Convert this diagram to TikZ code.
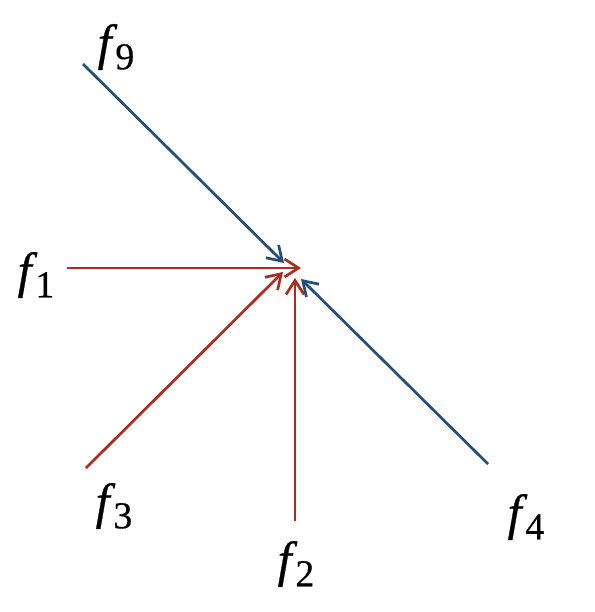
\documentclass[tikz,border=0pt]{standalone}
\usepackage{fontspec}
\setmainfont{Liberation Serif}[ItalicFeatures={FakeBold=0.6},UprightFeatures={FakeBold=0.4}]
\usetikzlibrary{arrows.meta}
\definecolor{fred}{RGB}{170,45,30}
\definecolor{fblue}{RGB}{35,78,120}
\newcommand{\flab}[1]{{\fontsize{50}{52}\selectfont\textit{f}\kern-2pt\raisebox{-0.2em}{\fontsize{38}{40}\selectfont #1}}}
\tikzset{
  vec/.style={line width=2.7pt, -{Straight Barb[length=14pt,width=18pt,line width=2.7pt]}},
  redvec/.style={vec, draw=fred},
  bluevec/.style={vec, draw=fblue},
  lab/.style={inner sep=0pt, anchor=center}
}
\begin{document}
\begin{tikzpicture}[x=1pt,y=-1pt]
\useasboundingbox (0,0) rectangle (594,612);
\node[lab] (l9) at (116,47) {\flab{9}};
\node[lab] (l1) at (36,275) {\flab{1}};
\node[lab] (l3) at (114,506) {\flab{3}};
\node[lab] (l2) at (296,564) {\flab{2}};
\node[lab] (l4) at (526,517) {\flab{4}};
\coordinate (s9) at (83,64);
\coordinate (t9) at (284,263);
\coordinate (s1) at (67,268);
\coordinate (t1) at (301,268);
\coordinate (s3) at (86,468);
\coordinate (t3) at (283,272);
\coordinate (s2) at (295,521);
\coordinate (t2) at (295,278);
\coordinate (s4) at (488,464);
\coordinate (t4) at (301,279);
\draw[bluevec] (s9) -- (t9);
\draw[redvec] (s1) -- (t1);
\draw[redvec] (s3) -- (t3);
\draw[redvec] (s2) -- (t2);
\draw[bluevec] (s4) -- (t4);
\end{tikzpicture}
\end{document}
